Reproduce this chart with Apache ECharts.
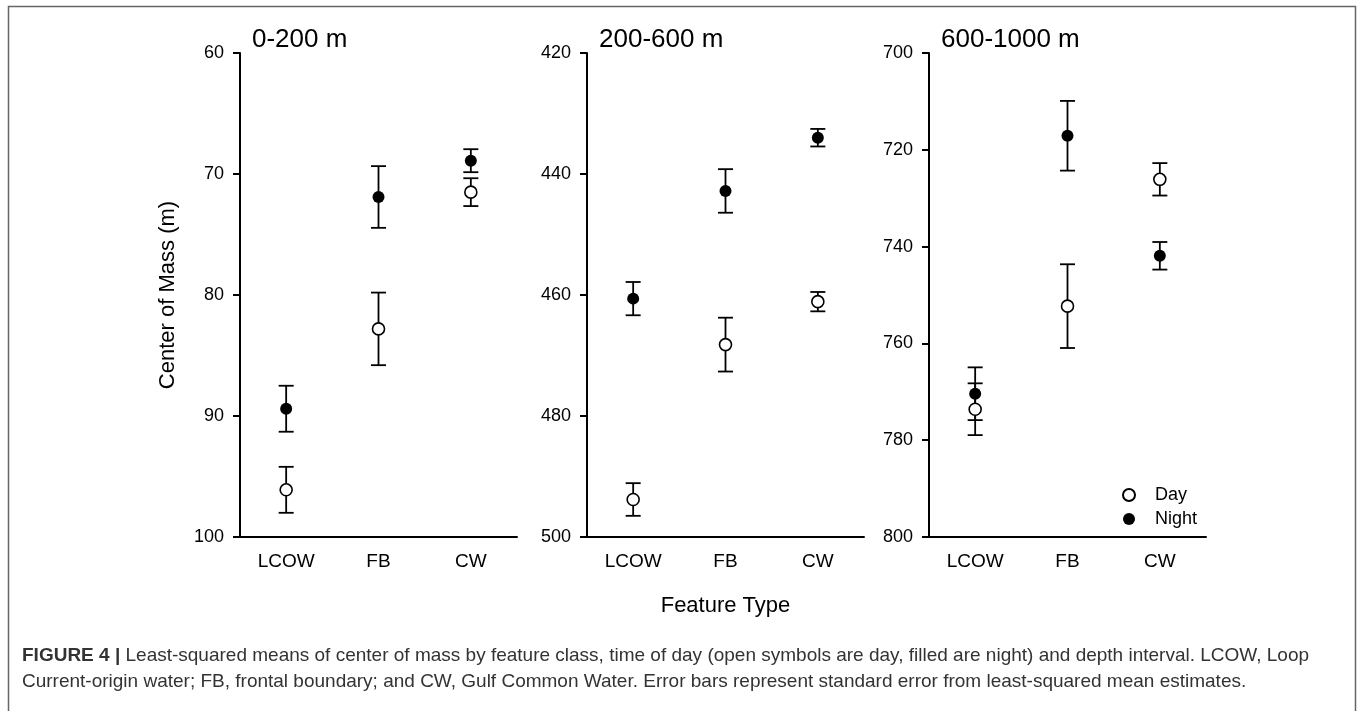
<!DOCTYPE html>
<html>
<head>
<meta charset="utf-8">
<script src="https://cdn.jsdelivr.net/npm/echarts@6/dist/echarts.min.js"></script>
<style>
  html, body { margin: 0; padding: 0; background: #fff; }
  #chart { width: 1360px; height: 711px; }
</style>
</head>
<body>
<div id="chart"></div>
<script>
// data (center of mass, m; SE = standard error)
const categories = ['LCOW', 'FB', 'CW']
const panelTitles = ['0-200 m', '200-600 m', '600-1000 m']
const yMin = [60, 420, 700]
const yMax = [100, 500, 800]
const yStep = [10, 20, 20]

const dayMean = [
  [96.1, 82.8, 71.5],
  [493.8, 468.2, 461.1],
  [773.6, 752.3, 726.1]
]
const daySE = [
  [1.9, 3.0, 1.15],
  [2.7, 4.45, 1.6],
  [5.35, 8.65, 3.35]
]
const nightMean = [
  [89.4, 71.9, 68.9],
  [460.6, 442.8, 434.0],
  [770.4, 717.1, 741.9]
]
const nightSE = [
  [1.9, 2.55, 0.95],
  [2.75, 3.6, 1.45],
  [5.45, 7.2, 2.85]
]

const FONT = '"Liberation Sans", Arial, sans-serif'
const gridLeft = [240, 587, 929]

const chart = echarts.init(document.getElementById('chart'))

const grids = []
const xAxes = []
const yAxes = []
const titles = []
const series = []

// error bar: vertical line plus two caps
function errorBar(params, api) {
  const x = api.value(0)
  const top = api.coord([x, api.value(1)])
  const bot = api.coord([x, api.value(2)])
  const hw = 7.5
  const style = { stroke: '#000', lineWidth: 1.8 }
  return {
    type: 'group',
    children: [
      { type: 'line', shape: { x1: top[0], y1: top[1], x2: bot[0], y2: bot[1] }, style: style },
      { type: 'line', shape: { x1: top[0] - hw, y1: top[1], x2: top[0] + hw, y2: top[1] }, style: style },
      { type: 'line', shape: { x1: bot[0] - hw, y1: bot[1], x2: bot[0] + hw, y2: bot[1] }, style: style }
    ]
  }
}

for (let i = 0; i < 3; i++) {
  grids.push({ left: gridLeft[i], top: 53, width: 277, height: 484 })
  titles.push({
    text: panelTitles[i],
    left: gridLeft[i] + 7,
    top: 22,
    textStyle: { fontSize: 26, fontWeight: 'normal', color: '#000', fontFamily: FONT }
  })
  xAxes.push({
    type: 'category',
    gridIndex: i,
    data: categories,
    boundaryGap: true,
    axisLine: { lineStyle: { color: '#000', width: 2 } },
    axisTick: { alignWithLabel: true, length: 8, lineStyle: { color: '#000', width: 2 } },
    axisLabel: { color: '#000', fontSize: 19, fontFamily: FONT, margin: 15 },
    name: i === 1 ? 'Feature Type' : '',
    nameLocation: 'middle',
    nameGap: 58,
    nameTextStyle: { color: '#000', fontSize: 22, fontFamily: FONT }
  })
  yAxes.push({
    type: 'value',
    gridIndex: i,
    inverse: true,
    min: yMin[i],
    max: yMax[i],
    interval: yStep[i],
    splitLine: { show: false },
    axisLine: { show: true, lineStyle: { color: '#000', width: 2 } },
    axisTick: { show: true, length: 7, lineStyle: { color: '#000', width: 2 } },
    axisLabel: { color: '#000', fontSize: 18, fontFamily: FONT, margin: 16 },
    name: i === 0 ? 'Center of Mass (m)' : '',
    nameLocation: 'middle',
    nameGap: 61,
    nameTextStyle: { color: '#000', fontSize: 22, fontFamily: FONT }
  })

  const dayBars = categories.map((c, k) => [k, dayMean[i][k] - daySE[i][k], dayMean[i][k] + daySE[i][k]])
  const nightBars = categories.map((c, k) => [k, nightMean[i][k] - nightSE[i][k], nightMean[i][k] + nightSE[i][k]])

  series.push({
    type: 'custom',
    xAxisIndex: i,
    yAxisIndex: i,
    renderItem: errorBar,
    encode: { x: 0, y: [1, 2] },
    data: nightBars.concat(dayBars),
    silent: true,
    z: 1
  })
  series.push({
    name: 'Day',
    type: 'scatter',
    xAxisIndex: i,
    yAxisIndex: i,
    symbol: 'circle',
    symbolSize: 12,
    itemStyle: { color: '#fff', borderColor: '#000', borderWidth: 1.6, opacity: 1 },
    data: categories.map((c, k) => [k, dayMean[i][k]]),
    z: 3
  })
  series.push({
    name: 'Night',
    type: 'scatter',
    xAxisIndex: i,
    yAxisIndex: i,
    symbol: 'circle',
    symbolSize: 12,
    itemStyle: { color: '#000', borderColor: '#000', borderWidth: 0, opacity: 1 },
    data: categories.map((c, k) => [k, nightMean[i][k]]),
    z: 4
  })
}

chart.setOption({
  backgroundColor: '#fff',
  animation: false,
  title: titles,
  grid: grids,
  xAxis: xAxes,
  yAxis: yAxes,
  legend: {
    data: ['Day', 'Night'],
    orient: 'vertical',
    left: 1117,
    top: 481,
    itemWidth: 12,
    itemHeight: 12,
    itemGap: 6,
    selectedMode: false,
    icon: 'circle',
    textStyle: { color: '#000', fontSize: 18, fontFamily: FONT, padding: [0, 0, 0, 15] }
  },
  graphic: [
    {
      type: 'rect',
      silent: true,
      shape: { x: 8.5, y: 6.5, width: 1347, height: 730 },
      style: { fill: 'none', stroke: '#666', lineWidth: 1.5 }
    },
    {
      type: 'text',
      left: 22,
      top: 643,
      silent: true,
      style: {
        text: '{b|FIGURE 4 |} Least-squared means of center of mass by feature class, time of day (open symbols are day, filled are night) and depth interval. LCOW, Loop\nCurrent-origin water; FB, frontal boundary; and CW, Gulf Common Water. Error bars represent standard error from least-squared mean estimates.',
        fontSize: 19,
        fontFamily: FONT,
        lineHeight: 26,
        fill: '#333',
        rich: {
          b: { fontWeight: 'bold', fontSize: 19, fontFamily: FONT, fill: '#333', lineHeight: 26 }
        }
      }
    }
  ],
  series: series
})
</script>
</body>
</html>
